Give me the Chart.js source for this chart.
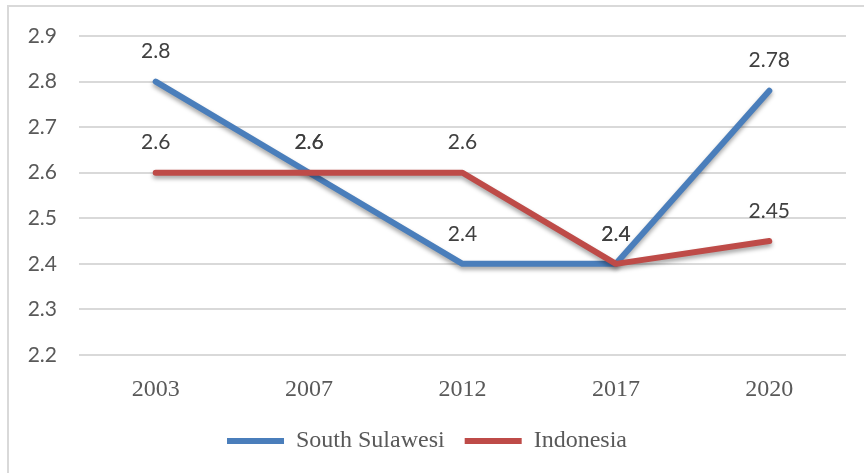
<!DOCTYPE html>
<html>
<head>
<meta charset="utf-8">
<script src="https://cdn.jsdelivr.net/npm/chart.js@4.4.0/dist/chart.umd.min.js"></script>
<style>
html,body{margin:0;padding:0;background:#fff;}
#wrap{position:relative;width:864px;height:473px;}
</style>
</head>
<body>
<div id="wrap"><canvas id="c" width="864" height="473"></canvas></div>
<script>
// dados
const years = ['2003', '2007', '2012', '2017', '2020'];
const southSulawesi = [2.8, 2.6, 2.4, 2.4, 2.78];
const indonesia = [2.6, 2.6, 2.6, 2.4, 2.45];
const yTicks = [2.2, 2.3, 2.4, 2.5, 2.6, 2.7, 2.8, 2.9];

const BLUE = '#4a7ebb';
const RED = '#be4b48';

// moldura cinza (só topo e esquerda aparecem)
const framePlugin = {
  id: 'frame',
  beforeDraw(chart){
    const ctx = chart.ctx;
    ctx.save();
    ctx.strokeStyle = '#d9d9d9';
    ctx.lineWidth = 2;
    ctx.beginPath();
    ctx.moveTo(8, 473); ctx.lineTo(8, 6); ctx.lineTo(864, 6);
    ctx.stroke();
    ctx.restore();
  }
};

// sombra leve nas linhas
const shadowPlugin = {
  id: 'lineShadow',
  beforeDatasetDraw(chart){
    const ctx = chart.ctx;
    ctx.save();
    ctx.shadowColor = 'rgba(0,0,0,0.35)';
    ctx.shadowBlur = 4;
    ctx.shadowOffsetY = 3;
  },
  afterDatasetDraw(chart){
    chart.ctx.restore();
  }
};

// rótulos de valor acima dos pontos
const labelPlugin = {
  id: 'valueLabels',
  afterDatasetsDraw(chart){
    const ctx = chart.ctx;
    ctx.save();
    ctx.font = '21px Lato';
    ctx.fillStyle = '#404040';
    ctx.textAlign = 'center';
    ctx.textBaseline = 'middle';
    chart.data.datasets.forEach((ds, i)=>{
      const meta = chart.getDatasetMeta(i);
      if(meta.hidden) return;
      meta.data.forEach((pt, j)=>{
        ctx.fillText(String(ds.data[j]), pt.x, pt.y - 30);
      });
    });
    ctx.restore();
  }
};

new Chart(document.getElementById('c').getContext('2d'), {
  type: 'line',
  data: {
    labels: years,
    datasets: [
      { label: 'South Sulawesi', data: southSulawesi, borderColor: BLUE, backgroundColor: BLUE,
        borderWidth: 6, borderCapStyle: 'round', borderJoinStyle: 'round', pointRadius: 0, tension: 0, order: 1 },
      { label: 'Indonesia', data: indonesia, borderColor: RED, backgroundColor: RED,
        borderWidth: 6, borderCapStyle: 'round', borderJoinStyle: 'round', pointRadius: 0, tension: 0, order: 0 }
    ]
  },
  options: {
    responsive: false,
    animation: false,
    layout: { padding: { left: 8, right: 18, top: 36, bottom: 10 } },
    scales: {
      x: {
        offset: true,
        grid: { display: false },
        border: { display: false },
        ticks: { color: '#595959', font: { family: 'Liberation Serif', size: 24 }, padding: 12 },
        afterFit(s){ s.height = 54; }
      },
      y: {
        min: 2.2, max: 2.9,
        afterBuildTicks(s){ s.ticks = yTicks.map(v=>({ value: v })); },
        grid: { color: '#d9d9d9', lineWidth: 2, drawTicks: false },
        border: { display: false },
        ticks: { color: '#595959', font: { family: 'Lato', size: 21 }, padding: 22,
          callback: v => v.toFixed(1) },
        afterFit(s){ s.width = 71; }
      }
    },
    plugins: {
      legend: {
        position: 'bottom',
        labels: {
          usePointStyle: true, pointStyle: 'line', pointStyleWidth: 57,
          sort: (a, b) => a.datasetIndex - b.datasetIndex,
          color: '#595959', font: { family: 'Liberation Serif', size: 24 }, padding: 20
        }
      },
      tooltip: { enabled: false }
    }
  },
  plugins: [framePlugin, shadowPlugin, labelPlugin]
});
</script>
</body>
</html>
